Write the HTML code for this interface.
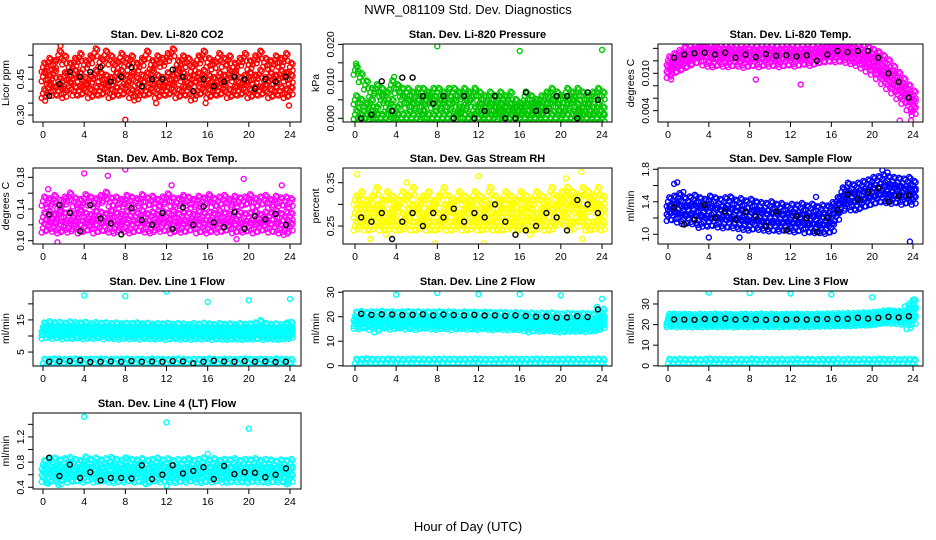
<!DOCTYPE html>
<html><head><meta charset="utf-8"><style>
html,body{margin:0;padding:0;background:#fff}
svg{display:block}
text{font-family:"Liberation Sans",sans-serif}
</style></head><body>
<svg id="c" width="936" height="540" xmlns="http://www.w3.org/2000/svg">
<text x="468" y="14" text-anchor="middle" font-size="13">NWR_081109  Std. Dev. Diagnostics</text>
<text x="468" y="531" text-anchor="middle" font-size="13">Hour of Day (UTC)</text>
</svg>
<script>
const HOURS=[0,0.5,1,1.5,2,2.5,3,3.5,4,4.5,5,5.5,6,6.5,7,7.5,8,8.5,9,9.5,10,10.5,11,11.5,12,12.5,13,13.5,14,14.5,15,15.5,16,16.5,17,17.5,18,18.5,19,19.5,20,20.5,21,21.5,22,22.5,23,23.5,24];
const BHOURS=[0.6,1.6,2.6,3.6,4.6,5.6,6.6,7.6,8.6,9.6,10.6,11.6,12.6,13.6,14.6,15.6,16.6,17.6,18.6,19.6,20.6,21.6,22.6,23.6];
const XTICKS=[0,4,8,12,16,20,24];

const co2Hi=[0.50,0.52,0.51,0.55,0.53,0.50,0.52,0.54,0.51,0.53,0.56,0.52,0.55,0.53,0.51,0.54,0.52,0.53,0.50,0.52,0.55,0.51,0.53,0.52,0.54,0.56,0.51,0.53,0.52,0.50,0.53,0.55,0.52,0.51,0.54,0.52,0.53,0.50,0.52,0.54,0.51,0.53,0.55,0.52,0.51,0.53,0.52,0.54,0.50];
const co2Mid=[0.46,0.45,0.47,0.44,0.46,0.45,0.47,0.46,0.44,0.45,0.47,0.46,0.45,0.44,0.46,0.47,0.45,0.46,0.44,0.45,0.46,0.47,0.45,0.44,0.46,0.45,0.47,0.46,0.44,0.45,0.46,0.47,0.45,0.44,0.46,0.45,0.47,0.46,0.44,0.45,0.46,0.45,0.47,0.44,0.46,0.45,0.47,0.46,0.45];
const co2Lo=[0.39,0.41,0.40,0.40,0.39,0.42,0.40,0.40,0.41,0.39,0.40,0.40,0.41,0.39,0.40,0.40,0.41,0.39,0.38,0.40,0.40,0.41,0.39,0.40,0.40,0.41,0.39,0.40,0.40,0.38,0.40,0.41,0.39,0.40,0.40,0.41,0.39,0.40,0.40,0.41,0.39,0.40,0.40,0.41,0.39,0.40,0.40,0.39,0.40];
const co2Black=[0.38,0.43,0.48,0.46,0.48,0.50,0.44,0.46,0.50,0.42,0.45,0.45,0.49,0.46,0.40,0.45,0.42,0.44,0.46,0.45,0.41,0.45,0.44,0.46];
const co2OutX=[1.7,8,0.2,11,23.9,6,15.8];
const co2OutY=[0.59,0.28,0.36,0.35,0.34,0.55,0.35];

const prHi=[0.013,0.011,0.009,0.007,0.008,0.007,0.006,0.009,0.008,0.007,0.007,0.006,0.007,0.007,0.006,0.007,0.007,0.006,0.007,0.007,0.006,0.007,0.006,0.007,0.006,0.005,0.006,0.005,0.006,0.005,0.006,0.004,0.003,0.006,0.005,0.004,0.005,0.006,0.007,0.006,0.005,0.007,0.006,0.007,0.006,0.005,0.006,0.007,0.006];
const prMid=[0.005,0.004,0.003,0.004,0.002,0.005,0.003,0.004,0.002,0.005,0.004,0.003,0.004,0.003,0.005,0.004,0.003,0.004,0.003,0.004,0.002,0.003,0.004,0.002,0.003,0.002,0.003,0.002,0.003,0.002,0.003,0.002,0.002,0.003,0.002,0.003,0.002,0.003,0.004,0.003,0.002,0.003,0.004,0.003,0.002,0.003,0.002,0.003,0.002];
const prLo=[0.001,0,0,0.001,0,0,0,0.001,0,0,0,0,0,0.001,0,0,0,0,0,0,0.001,0,0,0,0,0,0,0,0.001,0,0,0,0,0,0,0,0,0,0,0,0,0,0,0.001,0,0,0,0,0];
const prBlack=[0.000,0.001,0.010,0.002,0.011,0.011,0.006,0.004,0.006,0.000,0.006,0.000,0.002,0.006,0.000,0.000,0.007,0.002,0.002,0.006,0.006,0.000,0.007,0.005];
const prOutX=[8,16,24,0.1,0.3,3.8];
const prOutY=[0.0195,0.0182,0.0185,0.0148,0.0128,0.0112];

const tHi=[0.0120,0.0125,0.0130,0.0135,0.0138,0.0140,0.0142,0.0142,0.0140,0.0141,0.0140,0.0139,0.0140,0.0138,0.0139,0.0140,0.0139,0.0138,0.0139,0.0140,0.0139,0.0138,0.0139,0.0140,0.0139,0.0138,0.0139,0.0140,0.0139,0.0140,0.0141,0.0142,0.0143,0.0142,0.0143,0.0142,0.0141,0.0140,0.0138,0.0136,0.0132,0.0128,0.0122,0.0115,0.0105,0.0095,0.0085,0.0075,0.0065];
const tMid=[0.0110,0.0115,0.0120,0.0125,0.0128,0.0132,0.0134,0.0133,0.0132,0.0130,0.0131,0.0130,0.0129,0.0131,0.0130,0.0129,0.0128,0.0130,0.0129,0.0131,0.0130,0.0129,0.0128,0.0130,0.0131,0.0129,0.0130,0.0131,0.0130,0.0132,0.0133,0.0134,0.0135,0.0134,0.0135,0.0133,0.0132,0.0130,0.0127,0.0122,0.0118,0.0112,0.0105,0.0098,0.0090,0.0080,0.0070,0.0060,0.0050];
const tLo=[0.0100,0.0106,0.0110,0.0114,0.0118,0.0122,0.0124,0.0120,0.0118,0.0117,0.0120,0.0118,0.0117,0.0119,0.0118,0.0116,0.0118,0.0119,0.0117,0.0120,0.0118,0.0119,0.0117,0.0119,0.0120,0.0118,0.0120,0.0121,0.0119,0.0122,0.0124,0.0125,0.0126,0.0125,0.0126,0.0124,0.0122,0.0119,0.0115,0.0110,0.0105,0.0098,0.0090,0.0082,0.0075,0.0066,0.0058,0.0048,0.0040];
const tBlack=[0.0125,0.0130,0.0132,0.0133,0.0130,0.0133,0.0125,0.0130,0.0126,0.0131,0.0128,0.0129,0.0127,0.0129,0.0120,0.0130,0.0136,0.0134,0.0136,0.0136,0.0125,0.0100,0.0086,0.0061];
const tOutX=[13,22.7,23.8,23.8,0.3,8.6];
const tOutY=[0.0082,0.0024,0.0024,0.0038,0.0090,0.0090];

const abHi=[0.150,0.148,0.152,0.146,0.150,0.155,0.149,0.147,0.153,0.150,0.148,0.152,0.156,0.149,0.150,0.147,0.152,0.150,0.148,0.153,0.149,0.151,0.147,0.150,0.154,0.149,0.148,0.152,0.150,0.147,0.151,0.149,0.153,0.148,0.150,0.152,0.147,0.151,0.149,0.150,0.153,0.148,0.150,0.152,0.147,0.151,0.149,0.150,0.148];
const abMid=[0.130,0.132,0.128,0.133,0.130,0.131,0.129,0.134,0.130,0.128,0.132,0.131,0.129,0.133,0.130,0.128,0.132,0.131,0.130,0.133,0.129,0.131,0.128,0.132,0.130,0.133,0.129,0.131,0.130,0.128,0.132,0.130,0.131,0.129,0.133,0.130,0.128,0.132,0.131,0.129,0.130,0.132,0.128,0.131,0.130,0.133,0.129,0.131,0.130];
const abLo=[0.116,0.119,0.117,0.115,0.118,0.116,0.120,0.115,0.117,0.119,0.115,0.117,0.118,0.116,0.115,0.119,0.117,0.115,0.117,0.118,0.116,0.115,0.119,0.117,0.118,0.115,0.118,0.116,0.117,0.119,0.115,0.117,0.115,0.118,0.116,0.117,0.119,0.115,0.117,0.116,0.118,0.115,0.117,0.119,0.116,0.117,0.115,0.113,0.117];
const abBlack=[0.133,0.145,0.135,0.112,0.145,0.128,0.122,0.108,0.141,0.126,0.120,0.135,0.115,0.142,0.120,0.143,0.123,0.117,0.136,0.115,0.131,0.127,0.134,0.120];
const abOutX=[4,8,6.3,19.5,1.4,18.8,0.5,12.5,23.2];
const abOutY=[0.185,0.190,0.182,0.178,0.098,0.102,0.165,0.170,0.170];

const rhHi=[0.31,0.32,0.30,0.31,0.33,0.30,0.32,0.31,0.30,0.32,0.31,0.33,0.30,0.31,0.32,0.30,0.31,0.33,0.31,0.30,0.32,0.31,0.30,0.32,0.31,0.30,0.33,0.31,0.30,0.32,0.31,0.30,0.32,0.31,0.30,0.32,0.31,0.30,0.33,0.31,0.32,0.33,0.32,0.31,0.33,0.32,0.31,0.33,0.31];
const rhMid=[0.28,0.29,0.27,0.28,0.29,0.28,0.27,0.28,0.29,0.27,0.28,0.29,0.28,0.27,0.28,0.29,0.27,0.28,0.29,0.28,0.27,0.28,0.29,0.28,0.27,0.28,0.29,0.27,0.28,0.28,0.29,0.27,0.28,0.29,0.28,0.27,0.28,0.29,0.28,0.29,0.30,0.29,0.30,0.29,0.28,0.29,0.30,0.29,0.28];
const rhLo=[0.25,0.26,0.25,0.25,0.26,0.25,0.25,0.26,0.25,0.25,0.26,0.25,0.25,0.26,0.25,0.25,0.25,0.26,0.25,0.25,0.26,0.25,0.25,0.26,0.25,0.25,0.26,0.25,0.25,0.25,0.26,0.25,0.25,0.26,0.25,0.25,0.26,0.25,0.25,0.26,0.27,0.26,0.25,0.27,0.26,0.25,0.25,0.26,0.25];
const rhBlack=[0.27,0.26,0.28,0.22,0.26,0.28,0.25,0.28,0.27,0.29,0.26,0.28,0.27,0.30,0.26,0.23,0.24,0.25,0.28,0.27,0.24,0.31,0.30,0.28];
const rhOutX=[0.2,7.8,12.5,22,22.1,1.5,20.5,5,12,3,17];
const rhOutY=[0.37,0.21,0.21,0.375,0.22,0.22,0.36,0.35,0.365,0.23,0.23];

const sfHi=[1.40,1.42,1.45,1.40,1.41,1.43,1.40,1.38,1.42,1.40,1.38,1.40,1.41,1.37,1.39,1.36,1.38,1.35,1.34,1.33,1.35,1.32,1.33,1.30,1.32,1.31,1.33,1.30,1.32,1.29,1.31,1.30,1.34,1.40,1.52,1.58,1.56,1.58,1.60,1.62,1.65,1.66,1.68,1.66,1.65,1.64,1.63,1.65,1.60];
const sfMid=[1.30,1.32,1.31,1.29,1.30,1.31,1.28,1.27,1.28,1.26,1.25,1.27,1.26,1.24,1.25,1.23,1.22,1.23,1.21,1.20,1.21,1.20,1.19,1.20,1.18,1.19,1.20,1.18,1.17,1.18,1.16,1.17,1.20,1.32,1.42,1.46,1.45,1.46,1.48,1.50,1.52,1.53,1.54,1.53,1.52,1.53,1.51,1.52,1.50];
const sfLo=[1.22,1.23,1.20,1.18,1.19,1.18,1.17,1.15,1.15,1.16,1.14,1.13,1.14,1.13,1.12,1.11,1.10,1.12,1.11,1.10,1.09,1.10,1.09,1.10,1.09,1.08,1.10,1.07,1.08,1.07,1.07,1.06,1.08,1.22,1.33,1.37,1.35,1.35,1.38,1.40,1.42,1.44,1.45,1.44,1.43,1.44,1.42,1.44,1.42];
const sfBlack=[1.33,1.12,1.18,1.36,1.20,1.28,1.18,1.27,1.22,1.10,1.28,1.05,1.22,1.20,1.03,1.20,1.30,1.49,1.43,1.52,1.57,1.40,1.47,1.48];
const sfOutX=[0.6,0.9,4,7,14.5,21,23.7,21.5,1.5,3];
const sfOutY=[1.62,1.64,0.96,0.96,1.46,1.79,0.91,1.76,1.52,1.08];

const l1Hi=[12.8,13.2,12.9,13.0,12.7,13.1,12.9,12.8,13.0,12.6,12.9,12.7,12.8,12.6,12.8,12.5,12.7,12.6,12.8,12.5,12.7,12.4,12.6,12.5,12.7,12.4,12.6,12.5,12.3,12.6,12.4,12.7,12.5,12.3,12.6,12.4,12.5,12.3,12.6,12.4,12.5,12.8,13.5,12.6,12.4,12.5,12.3,12.6,13.0];
const l1Mid=[11.6,11.8,11.5,11.7,11.5,11.6,11.8,11.4,11.6,11.5,11.7,11.4,11.6,11.5,11.4,11.6,11.3,11.5,11.4,11.6,11.3,11.5,11.4,11.3,11.5,11.4,11.2,11.4,11.3,11.5,11.2,11.4,11.3,11.2,11.4,11.3,11.2,11.4,11.1,11.3,11.2,11.4,11.6,11.3,11.2,11.1,11.3,11.2,11.4];
const l1Lo=[10.6,10.8,10.5,10.7,10.4,10.6,10.5,10.7,10.4,10.6,10.5,10.7,10.4,10.6,10.5,10.3,10.6,10.4,10.5,10.3,10.5,10.4,10.3,10.5,10.2,10.4,10.5,10.3,10.4,10.2,10.4,10.3,10.5,10.2,10.4,10.3,10.2,10.4,10.3,10.2,10.4,10.3,10.5,10.2,10.4,10.3,10.2,10.4,10.5];
const l1Base=[1.5,1.4,1.6,1.5,1.4,1.5,1.6,1.5,1.4,1.5,1.5,1.6,1.5,1.4,1.5,1.5,1.6,1.4,1.5,1.5,1.4,1.6,1.5,1.5,1.4,1.5,1.6,1.5,1.4,1.5,1.5,1.4,1.6,1.5,1.4,1.5,1.5,1.4,1.5,1.6,1.5,1.4,1.5,1.5,1.4,1.6,1.5,1.4,1.5];
const l1Black=[2.0,2.1,2.2,2.4,1.9,2.0,2.1,2.0,2.2,2.0,2.1,2.0,2.2,2.1,1.5,2.0,2.3,2.1,2.0,2.2,2.0,2.1,1.9,2.0];
const l1OutX=[4,8,12,16,20,24,23.8];
const l1OutY=[22.6,22.4,23.8,20.6,21.1,21.5,14.2];

const l2Hi=[20.2,20.5,20.1,20.4,20.3,20.6,20.2,20.4,20.1,20.3,20.5,20.2,20.4,20.1,20.3,20.2,20.4,20.1,20.3,20.2,20.0,20.3,20.1,20.2,20.0,20.2,20.1,19.9,20.1,20.0,19.8,20.0,19.9,19.7,19.9,19.6,19.8,19.7,19.9,19.6,19.5,19.7,19.6,19.5,19.7,19.6,19.5,19.8,21.5];
const l2Mid=[18.0,18.3,17.8,18.1,17.9,18.2,18.0,17.8,18.1,17.9,18.2,17.8,18.0,17.9,18.1,17.8,18.0,17.9,17.7,18.0,17.8,17.9,17.7,17.9,17.8,17.6,17.8,17.7,17.5,17.7,17.5,17.4,17.6,17.4,17.3,17.2,17.1,17.0,17.1,17.0,16.9,17.0,16.8,16.9,16.8,16.9,16.8,17.0,18.0];
const l2Lo=[17.0,16.8,17.2,16.5,15.5,16.8,17.0,16.6,16.9,17.1,16.7,16.8,16.4,16.9,17.0,16.7,16.5,16.9,16.8,16.4,16.7,16.9,16.6,16.7,16.5,16.8,16.6,16.4,16.7,16.5,16.3,16.5,16.4,16.0,15.5,16.0,15.8,15.9,16.0,15.7,15.5,15.6,15.8,15.7,15.9,15.6,15.8,16.0,16.8];
const l2Base=[1,1,1.2,1,0.9,1,1.1,1,1,0.9,1,1.1,1,1,0.9,1,1,1.1,1,1,0.9,1,1,1.1,1,1,0.9,1,1,1.1,1,1,0.9,1,1,1.1,1,1,0.9,1,1,1.1,1,1,0.9,1,1,1.1,1];
const l2Black=[21.2,20.8,21.0,20.9,20.7,20.8,21.0,20.6,20.9,20.7,20.6,20.8,20.5,20.6,20.4,20.6,20.3,20.0,20.1,19.6,19.7,20.2,19.9,23.0];
const l2OutX=[4,8,12,16,20,24,23.9,23.5];
const l2OutY=[29,29.7,29.2,29.2,28.7,27.3,20.5,24.0];

const l3Hi=[23.0,23.2,22.9,23.1,23.0,22.8,23.1,22.9,23.0,23.2,22.9,23.1,23.0,22.8,23.0,23.1,22.9,23.0,23.2,22.9,23.1,23.0,22.9,23.1,23.0,23.2,22.9,23.1,23.0,23.2,23.1,23.3,23.2,23.4,23.3,23.5,23.4,23.6,23.8,23.7,23.9,24.2,24.6,24.8,24.6,24.5,24.2,28.0,30.0];
const l3Mid=[22.0,22.2,21.9,22.1,22.0,21.8,22.1,21.9,22.0,22.1,21.9,22.0,22.1,21.8,22.0,22.1,21.9,22.0,22.1,21.9,22.0,22.1,21.9,22.0,22.1,22.2,21.9,22.1,22.0,22.2,22.1,22.3,22.2,22.4,22.3,22.5,22.4,22.6,22.8,22.7,22.9,23.2,23.6,23.8,23.6,23.5,23.2,25.0,26.0];
const l3Lo=[21.0,21.2,20.9,21.1,21.0,20.8,21.1,20.9,21.0,21.1,20.9,21.0,21.1,20.8,21.0,21.1,20.9,21.0,21.1,20.9,21.0,21.1,20.9,21.0,21.1,21.2,20.9,21.1,21.0,21.2,21.1,21.3,21.2,21.4,21.3,21.5,21.4,21.6,21.8,21.7,21.9,22.2,22.6,22.8,22.6,22.5,22.2,20.0,22.0];
const l3Base=[1.2,1,1.3,1.1,1,1.2,1,1.1,1.3,1,1.2,1.1,1,1.2,1.1,1,1.3,1.1,1,1.2,1,1.1,1.2,1,1.1,1.3,1,1.2,1.1,1,1.2,1,1.1,1.3,1,1.2,1.1,1,1.2,1.1,1,1.3,1.1,1,1.2,1,1.1,1.2,1];
const l3Black=[22.5,22.4,22.3,22.7,22.6,22.9,22.4,22.7,22.4,22.3,22.6,22.4,22.5,22.4,22.6,22.7,22.8,22.8,23.3,22.9,23.3,23.8,23.5,24.0];
const l3OutX=[4,8,12,16,20,24,23.2,23.8,23.9];
const l3OutY=[35.5,35.3,35.1,34.6,33.3,32.0,28.8,28.0,23.5];

const l4Hi=[0.76,0.78,0.80,0.77,0.79,0.81,0.78,0.76,0.82,0.78,0.80,0.77,0.79,0.81,0.78,0.76,0.80,0.78,0.77,0.79,0.76,0.78,0.80,0.77,0.79,0.76,0.78,0.77,0.79,0.76,0.78,0.80,0.77,0.79,0.76,0.78,0.77,0.79,0.76,0.78,0.77,0.79,0.76,0.78,0.77,0.75,0.77,0.76,0.78];
const l4Mid=[0.66,0.68,0.64,0.67,0.65,0.68,0.66,0.64,0.67,0.65,0.68,0.64,0.66,0.67,0.65,0.63,0.66,0.64,0.67,0.65,0.63,0.66,0.64,0.67,0.65,0.63,0.66,0.64,0.65,0.63,0.66,0.64,0.65,0.63,0.66,0.64,0.65,0.63,0.66,0.64,0.65,0.63,0.66,0.64,0.65,0.63,0.66,0.64,0.65];
const l4Lo=[0.56,0.54,0.57,0.55,0.58,0.55,0.56,0.57,0.55,0.58,0.55,0.56,0.57,0.55,0.54,0.56,0.55,0.57,0.55,0.56,0.54,0.55,0.57,0.55,0.56,0.55,0.54,0.56,0.55,0.57,0.55,0.54,0.56,0.55,0.57,0.55,0.54,0.56,0.55,0.55,0.54,0.56,0.55,0.55,0.54,0.56,0.55,0.55,0.54];
const l4Black=[0.87,0.58,0.76,0.55,0.64,0.51,0.55,0.55,0.54,0.75,0.53,0.60,0.75,0.62,0.66,0.72,0.53,0.74,0.61,0.64,0.63,0.56,0.60,0.70];
const l4OutX=[4,12,20,16,0.5,1.5,8,10,23.7,12,0.3,1.8];
const l4OutY=[1.52,1.43,1.33,0.93,0.46,0.44,0.87,0.45,0.45,0.42,0.48,0.45];

const NS='http://www.w3.org/2000/svg';
const svg=document.getElementById('c');
function mk(tag,attrs,parent){const e=document.createElementNS(NS,tag);for(const k in attrs)e.setAttribute(k,attrs[k]);(parent||svg).appendChild(e);return e;}

const COLS=[{x0:33,x1:301,a:43,b:290},{x0:343,x1:612,a:355,b:602},{x0:658,x1:923,a:668,b:913}];
const ROWS=[[44,122],[168,244],[291,366],[413,489]];
// glyph cluster offsets (pixels) used to render each dense-band observation like the over-plotted original
const CLUSTER=[[0,0],[2.6,3.2],[2.6,-3.2],[-1.3,4.5],[1.3,-4.5]];

function panel(slug,title,ylab,col,row,ymin,ymax,yticks,ylabels,color,bands,black,outX,outY){
  const C=COLS[col],R=ROWS[row];
  const g=mk('g',{});
  
  
  const xs=h=>C.a+(C.b-C.a)*h/24;
  const ys=v=>R[1]-(R[1]-R[0])*(v-ymin)/(ymax-ymin);
  const cx=(C.x0+C.x1)/2;
  const t=mk('text',{x:cx,y:R[0]-6,'text-anchor':'middle','font-size':'11','font-weight':'bold'},g);
  t.textContent=title;
  
  
  const yl=mk('text',{x:0,y:0,'text-anchor':'middle','font-size':'10.5',transform:`translate(${C.x0-24},${(R[0]+R[1])/2}) rotate(-90)`},g);
  yl.textContent=ylab;
  
  
  const clip=mk('clipPath',{id:'clip-'+slug},g);
  mk('rect',{x:C.x0,y:R[0],width:C.x1-C.x0,height:R[1]-R[0]},clip);
  const plot=mk('g',{'clip-path':`url(#clip-${slug})`},g);
  
  
  const dot=(x,y,c,n)=>{const e=mk('circle',{cx:x.toFixed(1),cy:y.toFixed(1),r:2.5,fill:'none',stroke:c,'stroke-width':1.4},plot);};
  bands.forEach(arr=>arr.forEach((v,i)=>{
    const x=xs(HOURS[i]),y=ys(v);
    CLUSTER.forEach(o=>dot(x+o[0],y+o[1],color,slug+'-point'));
  }));
  outX.forEach((h,i)=>dot(xs(h),ys(outY[i]),color,slug+'-outlier'));
  black.forEach((v,i)=>dot(xs(BHOURS[i]),ys(v),'#000',slug+'-reference-point'));
  const box=mk('rect',{x:C.x0,y:R[0],width:C.x1-C.x0,height:R[1]-R[0],fill:'none',stroke:'#000','stroke-width':1},g);
  
  
  XTICKS.forEach(h=>{
    mk('line',{x1:xs(h),x2:xs(h),y1:R[1],y2:R[1]+5,stroke:'#000'},g);
    const l=mk('text',{x:xs(h),y:R[1]+16,'text-anchor':'middle','font-size':'10.5'},g);
    l.textContent=h;
    
    
  });
  yticks.forEach((v,i)=>{
    const y=ys(v);
    mk('line',{x1:C.x0-5,x2:C.x0,y1:y,y2:y,stroke:'#000'},g);
    if(ylabels[i]){
      const l=mk('text',{x:0,y:0,'text-anchor':'middle','font-size':'10.5',transform:`translate(${C.x0-9},${y}) rotate(-90)`},g);
      l.textContent=ylabels[i];
      
      
    }
  });
}

panel('co2','Stan. Dev. Li-820 CO2','Licor ppm',0,0,0.271,0.597,[0.30,0.35,0.40,0.45,0.50,0.55],['0.30','','','0.45','',''],'#ff0000',[co2Hi,co2Mid,co2Lo],co2Black,co2OutX,co2OutY);
panel('pressure','Stan. Dev. Li-820 Pressure','kPa',1,0,-0.0010,0.0201,[0,0.005,0.010,0.015,0.020],['0.000','','0.010','','0.020'],'#00c800',[prHi,prMid,prLo],prBlack,prOutX,prOutY);
panel('li820-temp','Stan. Dev. Li-820 Temp.','degrees C',2,0,0.00218,0.0147,[0.004,0.006,0.008,0.010,0.012,0.014],['0.004','','','0.010','',''],'#ff00ff',[tHi,tMid,tLo],tBlack,tOutX,tOutY);
panel('amb-box-temp','Stan. Dev. Amb. Box Temp.','degrees C',0,1,0.0958,0.1918,[0.10,0.12,0.14,0.16,0.18],['0.10','','0.14','','0.18'],'#ff00ff',[abHi,abMid,abLo],abBlack,abOutX,abOutY);
panel('gas-rh','Stan. Dev. Gas Stream RH','percent',1,1,0.2085,0.384,[0.25,0.30,0.35],['0.25','','0.35'],'#ffff00',[rhHi,rhMid,rhLo],rhBlack,rhOutX,rhOutY);
panel('sample-flow','Stan. Dev. Sample Flow','ml/min',2,1,0.88,1.816,[1.0,1.2,1.4,1.6,1.8],['1.0','','1.4','','1.8'],'#0000ff',[sfHi,sfMid,sfLo],sfBlack,sfOutX,sfOutY);
panel('line1-flow','Stan. Dev. Line 1 Flow','ml/min',0,2,0.66,24.0,[5,10,15,20],['5','','15',''],'#00ffff',[l1Hi,l1Mid,l1Lo,l1Base],l1Black,l1OutX,l1OutY);
panel('line2-flow','Stan. Dev. Line 2 Flow','ml/min',1,2,-0.1,30.5,[0,10,20,30],['0','10','20','30'],'#00ffff',[l2Hi,l2Mid,l2Lo,l2Base],l2Black,l2OutX,l2OutY);
panel('line3-flow','Stan. Dev. Line 3 Flow','ml/min',2,2,-0.1,36.3,[0,10,20,30],['0','10','20','30'],'#00ffff',[l3Hi,l3Mid,l3Lo,l3Base],l3Black,l3OutX,l3OutY);
panel('line4-flow','Stan. Dev. Line 4 (LT) Flow','ml/min',0,3,0.373,1.58,[0.4,0.6,0.8,1.0,1.2,1.4],['0.4','','0.8','','1.2',''],'#00ffff',[l4Hi,l4Mid,l4Lo],l4Black,l4OutX,l4OutY);
</script>
</body></html>
